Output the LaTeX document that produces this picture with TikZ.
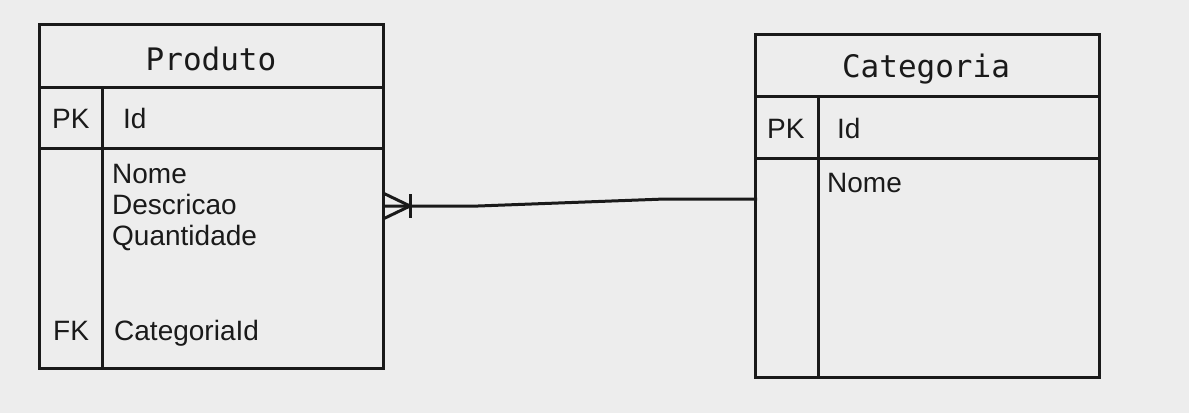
\documentclass[tikz,border=0pt]{standalone}
\usepackage{fontspec}
\setmainfont{Liberation Sans}
\newfontfamily\titlemono{DejaVu Sans Mono}
\definecolor{bgc}{HTML}{EDEDED}
\definecolor{ink}{HTML}{1A1A1A}
\tikzset{
  tbl/.style={draw=ink, line width=3pt, rectangle, inner sep=0pt, outer sep=0pt},
  rule/.style={draw=ink, line width=3pt},
  ttl/.style={anchor=base, inner sep=0pt, text=ink, font=\titlemono\fontsize{31}{34}\selectfont},
  fld/.style={anchor=base west, inner sep=0pt, text=ink, font=\fontsize{28}{31}\selectfont},
  conn/.style={draw=ink, line width=3pt}
}
\begin{document}
\begin{tikzpicture}[x=1pt,y=-1pt]
\fill[bgc] (0,0) rectangle (1189,413);
\useasboundingbox (0,0) rectangle (1189,413);

% Produto table
\node[tbl, minimum width=344pt, minimum height=344pt] (prod) at (211,196) {};
\draw[rule] (39,87) -- (383,87);
\draw[rule] (39,148) -- (383,148);
\draw[rule] (102,87) -- (102,368);
\node[ttl] (prodt) at (211,70) {Produto};
\node[fld] (prodpk) at (52,128) {PK};
\node[fld] (prodid) at (123,128) {Id};
\node[fld] (prodn) at (112,183) {Nome};
\node[fld] (prodd) at (112,214) {Descricao};
\node[fld] (prodq) at (112,245) {Quantidade};
\node[fld] (prodfk) at (53,340) {FK};
\node[fld] (prodcid) at (114,340) {CategoriaId};

% Categoria table
\node[tbl, minimum width=344pt, minimum height=343pt] (cat) at (927,205.5) {};
\draw[rule] (755,96) -- (1099,96);
\draw[rule] (755,158) -- (1099,158);
\draw[rule] (818,96) -- (818,377);
\node[ttl] (catt) at (926,77) {Categoria};
\node[fld] (catpk) at (767,138) {PK};
\node[fld] (catid) at (837,138) {Id};
\node[fld] (catn) at (827,192) {Nome};

% connector
\coordinate (pa) at ([yshift=-10pt]prod.east);
\coordinate (cb) at ([yshift=6.5pt]cat.west);
\draw[conn] (pa) -- ++(95,0) -- (665,199) -- ([xshift=2pt]cb);
\draw[conn] ([shift={(0,-13)}]pa) -- ([shift={(27,0)}]pa) -- ([shift={(0,13)}]pa);
\draw[conn] ([shift={(27,-12)}]pa) -- ([shift={(27,12)}]pa);
\end{tikzpicture}
\end{document}
